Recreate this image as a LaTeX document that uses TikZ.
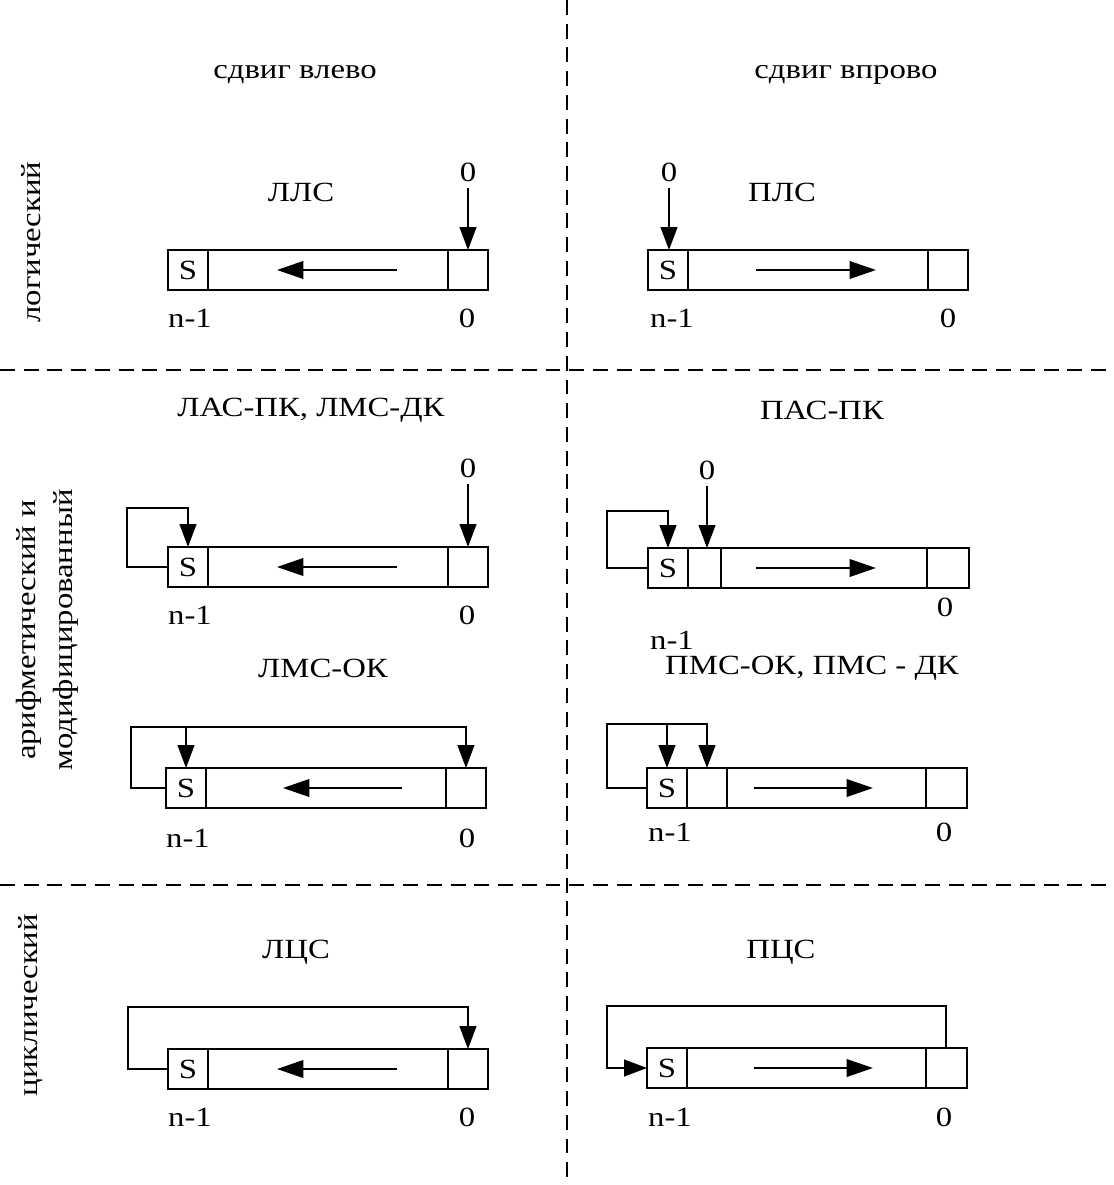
\documentclass[tikz,border=0pt]{standalone}
\usepackage{fontspec}
\setmainfont[FakeStretch=1.18]{Liberation Serif}
\usetikzlibrary{arrows.meta,positioning}

\begin{document}
\begin{tikzpicture}[x=0.02cm,y=-0.02cm,line width=1.1pt,
  font=\fontsize{15.8}{19}\selectfont,
  cell/.style={draw,rectangle,minimum width=0.8cm,minimum height=0.8cm,inner sep=0pt,outer sep=0pt},
  arr/.style={-{Triangle[length=13pt,width=9.5pt]}},
  move/.style={-{Triangle[length=15pt,width=10pt]}},
  sep/.style={dash pattern=on 8.5pt off 5pt}]
\useasboundingbox (0,0) rectangle (1113,1185);

% separators
\draw[sep] (567,0) -- (567,1185);
\draw[sep] (0,370) -- (1113,370);
\draw[sep] (0,885) -- (1113,885);

% headings
\node (hLeft) at (295,75) {сдвиг влево};
\node (hRight) at (846,75) {сдвиг впрово};
\node[rotate=90] (tLog) at (31,242) {логический};
\node[rotate=90] (tAr1) at (29,630) {арифметический и};
\node[rotate=90] (tAr2) at (66,630) {модифицированный};
\node[rotate=90] (tCyc) at (31,1005) {циклический};

% logical, left
\node (nmA) at (301,192) {ЛЛС};
\node[cell] (sA) at (188,270) {S};
\node[cell,right=0pt of sA,minimum width=4.8cm] (mA) {};
\node[cell,right=0pt of mA] (zA) {};
\node (inA) at (468,172) {0};
\node (nA) at (190,318) {n-1};
\node (oA) at (467,318) {0};
\draw[arr] (inA) -- (inA |- zA.north);
\draw[move] ([xshift=4.18cm]sA.center) -- ([xshift=1.78cm]sA.center);

% logical, right
\node (nmB) at (782,192) {ПЛС};
\node[cell] (sB) at (668,270) {S};
\node[cell,right=0pt of sB,minimum width=4.8cm] (mB) {};
\node[cell,right=0pt of mB] (zB) {};
\node (inB) at (669,172) {0};
\node (nB) at (672,318) {n-1};
\node (oB) at (948,318) {0};
\draw[arr] (inB) -- (inB |- sB.north);
\draw[move] ([xshift=1.76cm]sB.center) -- ([xshift=4.16cm]sB.center);

% arithmetic, left
\node (nmC) at (311,410) {ЛАС-ПК, ЛМС-ДК};
\node[cell] (sC) at (188,567) {S};
\node[cell,right=0pt of sC,minimum width=4.8cm] (mC) {};
\node[cell,right=0pt of mC] (zC) {};
\node (inC) at (468,468) {0};
\node (nC) at (190,615) {n-1};
\node (oC) at (467,615) {0};
\coordinate (lC) at (127,508);
\draw[arr] (inC) -- (inC |- zC.north);
\draw[arr] (sC.west) -| (lC) -| (sC.north);
\draw[move] ([xshift=4.18cm]sC.center) -- ([xshift=1.78cm]sC.center);

% arithmetic, right
\node (nmD) at (822,410) {ПАС-ПК};
\node[cell] (sD) at (668,568) {S};
\node[cell,right=0pt of sD,minimum width=0.66cm] (cD) {};
\node[cell,right=0pt of cD,minimum width=4.12cm] (mD) {};
\node[cell,right=0pt of mD,minimum width=0.84cm] (zD) {};
\node (inD) at (707,470) {0};
\node (nD) at (672,640) {n-1};
\node (oD) at (945,607) {0};
\coordinate (lD) at (607,511);
\draw[arr] (inD) -- (inD |- cD.north);
\draw[arr] (sD.west) -| (lD) -| (sD.north);
\draw[move] ([xshift=1.76cm]sD.center) -- ([xshift=4.16cm]sD.center);

% modified, left
\node (nmE) at (323,668) {ЛМС-ОК};
\node[cell] (sE) at (186,788) {S};
\node[cell,right=0pt of sE,minimum width=4.8cm] (mE) {};
\node[cell,right=0pt of mE] (zE) {};
\node (nE) at (188,838) {n-1};
\node (oE) at (467,838) {0};
\coordinate (lE) at (131,727);
\draw[arr] (sE.west) -| (lE) -| (zE.north);
\draw[arr] (sE |- lE) -- (sE.north);
\draw[move] ([xshift=4.32cm]sE.center) -- ([xshift=1.94cm]sE.center);

% modified, right
\node (nmF) at (812,668) {ПМС-ОК, ПМС - ДК};
\node[cell] (sF) at (667,788) {S};
\node[cell,right=0pt of sF] (cF) {};
\node[cell,right=0pt of cF,minimum width=3.98cm] (mF) {};
\node[cell,right=0pt of mF,minimum width=0.82cm] (zF) {};
\node (nF) at (670,832) {n-1};
\node (oF) at (944,832) {0};
\coordinate (lF) at (607,724);
\draw[arr] (sF.west) -| (lF) -| (cF.north);
\draw[arr] (sF |- lF) -- (sF.north);
\draw[move] ([xshift=1.74cm]sF.center) -- ([xshift=4.12cm]sF.center);

% cyclic, left
\node (nmG) at (296,952) {ЛЦС};
\node[cell] (sG) at (188,1069) {S};
\node[cell,right=0pt of sG,minimum width=4.8cm] (mG) {};
\node[cell,right=0pt of mG] (zG) {};
\node (nG) at (190,1117) {n-1};
\node (oG) at (467,1117) {0};
\coordinate (lG) at (128,1007);
\draw[arr] (sG.west) -| (lG) -| (zG.north);
\draw[move] ([xshift=4.18cm]sG.center) -- ([xshift=1.78cm]sG.center);

% cyclic, right
\node (nmH) at (781,952) {ПЦС};
\node[cell] (sH) at (667,1068) {S};
\node[cell,right=0pt of sH,minimum width=4.78cm] (mH) {};
\node[cell,right=0pt of mH,minimum width=0.82cm] (zH) {};
\node (nH) at (670,1117) {n-1};
\node (oH) at (944,1117) {0};
\coordinate (lH) at (607,1006);
\draw[arr] (zH.north) |- (lH) |- (sH.west);
\draw[move] ([xshift=1.74cm]sH.center) -- ([xshift=4.12cm]sH.center);
\end{tikzpicture}
\end{document}
